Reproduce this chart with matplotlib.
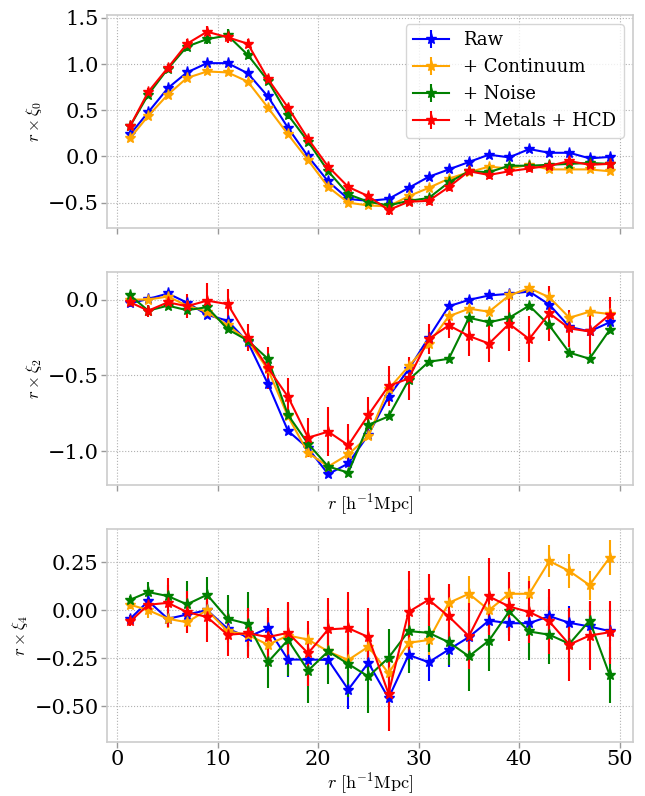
import matplotlib
matplotlib.use('Agg')
import matplotlib.pyplot as plt
import numpy as np

plt.rcParams['font.family'] = 'DejaVu Serif'
plt.rcParams['mathtext.fontset'] = 'cm'

r = [1.3, 3.1, 5.05, 6.95, 8.95, 11, 13, 15, 17, 19, 21, 23, 25,
     27, 29, 31, 33, 35, 37, 39, 41, 43, 45, 47, 49]

labels = ['Raw', '+ Continuum', '+ Noise', '+ Metals + HCD']
colors = ['blue', 'orange', 'green', 'red']

# monopole r*xi_0
xi0_raw = [0.24, 0.48, 0.74, 0.91, 1.01, 1.01, 0.90, 0.65, 0.31, 0.00, -0.27, -0.46, -0.48,
           -0.46, -0.34, -0.22, -0.14, -0.06, 0.02, -0.01, 0.08, 0.04, 0.04, -0.02, -0.005]
xi0_cont = [0.20, 0.44, 0.67, 0.85, 0.92, 0.91, 0.81, 0.53, 0.24, -0.04, -0.33, -0.50, -0.53,
            -0.54, -0.43, -0.34, -0.24, -0.17, -0.11, -0.13, -0.09, -0.14, -0.14, -0.14, -0.16]
xi0_noise = [0.33, 0.67, 0.95, 1.19, 1.27, 1.31, 1.10, 0.82, 0.45, 0.16, -0.16, -0.41, -0.49,
             -0.53, -0.48, -0.45, -0.28, -0.16, -0.17, -0.10, -0.10, -0.09, -0.08, -0.07, -0.08]
xi0_metals = [0.33, 0.70, 0.96, 1.22, 1.35, 1.29, 1.22, 0.84, 0.53, 0.19, -0.11, -0.33, -0.43,
              -0.58, -0.49, -0.48, -0.33, -0.16, -0.20, -0.16, -0.13, -0.10, -0.05, -0.09, -0.08]
err0_raw = [0.02] * 25
err0_cont = [0.02] * 25
err0_noise = [0.03, 0.04, 0.04, 0.05, 0.05, 0.07, 0.05, 0.04, 0.04, 0.03, 0.03, 0.03, 0.03,
              0.03, 0.03, 0.03, 0.03, 0.03, 0.03, 0.03, 0.03, 0.03, 0.03, 0.03, 0.03]
err0_metals = [0.03, 0.04, 0.04, 0.05, 0.06, 0.06, 0.05, 0.04, 0.04, 0.03, 0.03, 0.03, 0.04,
               0.05, 0.04, 0.04, 0.04, 0.03, 0.04, 0.04, 0.04, 0.04, 0.04, 0.04, 0.04]

# quadrupole r*xi_2
xi2_raw = [-0.024, 0.004, 0.04, -0.02, -0.10, -0.14, -0.28, -0.555, -0.865, -0.98, -1.15, -1.08, -0.89,
           -0.64, -0.46, -0.25, -0.044, -0.002, 0.027, 0.038, 0.053, -0.033, -0.18, -0.21, -0.15]
xi2_cont = [0.0, 0.0, 0.02, -0.04, -0.08, -0.17, -0.27, -0.46, -0.77, -1.01, -1.10, -1.02, -0.90,
            -0.59, -0.44, -0.29, -0.11, -0.06, -0.08, 0.027, 0.075, 0.015, -0.12, -0.08, -0.095]
xi2_noise = [0.027, -0.073, -0.04, -0.07, -0.05, -0.195, -0.27, -0.39, -0.76, -0.95, -1.10, -1.14, -0.825,
             -0.77, -0.53, -0.41, -0.39, -0.12, -0.15, -0.12, -0.04, -0.17, -0.35, -0.39, -0.20]
xi2_metals = [-0.018, -0.073, -0.018, -0.044, -0.007, -0.03, -0.25, -0.45, -0.64, -0.91, -0.87, -0.96, -0.76,
              -0.57, -0.52, -0.26, -0.17, -0.24, -0.29, -0.16, -0.26, -0.09, -0.19, -0.21, -0.10]
err2_raw = [0.02] * 25
err2_cont = [0.02] * 25
err2_noise = [0.02] * 25
err2_metals = [0.03, 0.04, 0.04, 0.08, 0.115, 0.10, 0.09, 0.14, 0.12, 0.13, 0.16, 0.14, 0.12,
               0.13, 0.14, 0.10, 0.08, 0.13, 0.12, 0.18, 0.15, 0.18, 0.12, 0.15, 0.12]

# hexadecapole r*xi_4
xi4_raw = [-0.045, 0.047, -0.045, -0.023, 0.0, -0.097, -0.14, -0.094, -0.257, -0.257, -0.259, -0.413, -0.274,
           -0.458, -0.233, -0.271, -0.205, -0.14, -0.054, -0.068, -0.068, -0.031, -0.066, -0.085, -0.109]
xi4_cont = [0.028, 0.0, -0.045, -0.063, 0.0, -0.11, -0.128, -0.18, -0.132, -0.153, -0.215, -0.259, -0.19,
            -0.328, -0.17, -0.155, 0.038, 0.085, 0.0, 0.085, 0.085, 0.255, 0.203, 0.13, 0.273]
xi4_noise = [0.054, 0.094, 0.073, 0.03, 0.08, -0.045, -0.071, -0.27, -0.155, -0.314, -0.214, -0.28, -0.345,
             -0.248, -0.109, -0.118, -0.167, -0.24, -0.158, -0.007, -0.111, -0.128, -0.175, -0.054, -0.337]
xi4_metals = [-0.059, 0.028, 0.038, -0.01, -0.036, -0.128, -0.12, -0.14, -0.118, -0.224, -0.10, -0.094, -0.14,
              -0.434, -0.009, 0.054, -0.033, -0.135, 0.071, 0.019, -0.01, -0.059, -0.179, -0.132, -0.115]
err4_raw = [0.02, 0.04, 0.05, 0.05, 0.05, 0.06, 0.05, 0.06, 0.09, 0.05, 0.05, 0.10, 0.08,
            0.04, 0.06, 0.10, 0.09, 0.06, 0.06, 0.06, 0.06, 0.10, 0.09, 0.06, 0.05]
err4_cont = [0.02, 0.04, 0.05, 0.05, 0.05, 0.05, 0.06, 0.06, 0.06, 0.06, 0.06, 0.07, 0.07,
             0.08, 0.08, 0.08, 0.08, 0.095, 0.08, 0.06, 0.095, 0.085, 0.09, 0.075, 0.09]
err4_noise = [0.02, 0.05, 0.06, 0.12, 0.09, 0.125, 0.165, 0.135, 0.19, 0.17, 0.17, 0.17, 0.19,
              0.15, 0.22, 0.10, 0.12, 0.18, 0.16, 0.10, 0.15, 0.15, 0.10, 0.10, 0.145]
err4_metals = [0.024, 0.04, 0.127, 0.11, 0.13, 0.11, 0.13, 0.15, 0.16, 0.17, 0.165, 0.19, 0.15,
               0.195, 0.21, 0.135, 0.17, 0.17, 0.20, 0.18, 0.16, 0.17, 0.19, 0.18, 0.165]

panels = [
    ([xi0_raw, xi0_cont, xi0_noise, xi0_metals], [err0_raw, err0_cont, err0_noise, err0_metals],
     r'$r \times \xi_0$', (-0.77, 1.53), [-0.5, 0.0, 0.5, 1.0, 1.5]),
    ([xi2_raw, xi2_cont, xi2_noise, xi2_metals], [err2_raw, err2_cont, err2_noise, err2_metals],
     r'$r \times \xi_2$', (-1.22, 0.18), [-1.0, -0.5, 0.0]),
    ([xi4_raw, xi4_cont, xi4_noise, xi4_metals], [err4_raw, err4_cont, err4_noise, err4_metals],
     r'$r \times \xi_4$', (-0.685, 0.42), [-0.5, -0.25, 0.0, 0.25]),
]

fig, axes = plt.subplots(3, 1, figsize=(6.45, 7.96), dpi=100, sharex=True)
fig.subplots_adjust(left=0.166, right=0.981, top=0.981, bottom=0.068, hspace=0.21)

for ax, (vals, errs, ylab, ylim, yticks) in zip(axes, panels):
    for y, e, c, lab in zip(vals, errs, colors, labels):
        ax.errorbar(r, y, yerr=e, color=c, marker='*', markersize=8, linewidth=1.5,
                    elinewidth=1.5, capsize=0, label=lab)
    ax.set_ylabel(ylab, fontsize=12, labelpad=3)
    ax.set_ylim(*ylim)
    ax.set_yticks(yticks)
    ax.set_xlim(-1.0, 51.3)
    ax.set_xticks([0, 10, 20, 30, 40, 50])
    ax.grid(True, linestyle=':', color='#b0b0b0', linewidth=0.8)
    ax.tick_params(labelsize=15, color='#999999', length=4, width=1, pad=2)
    for s in ax.spines.values():
        s.set_color('#cccccc')
        s.set_linewidth(1.2)

axes[0].legend(loc='upper right', fontsize=13, framealpha=0.8, edgecolor='#cccccc')
axes[1].set_xlabel(r'$r\ [\mathrm{h^{-1}Mpc}]$', fontsize=13, labelpad=1)
axes[2].set_xlabel(r'$r\ [\mathrm{h^{-1}Mpc}]$', fontsize=13, labelpad=1)

plt.savefig('out.png', dpi=100)
